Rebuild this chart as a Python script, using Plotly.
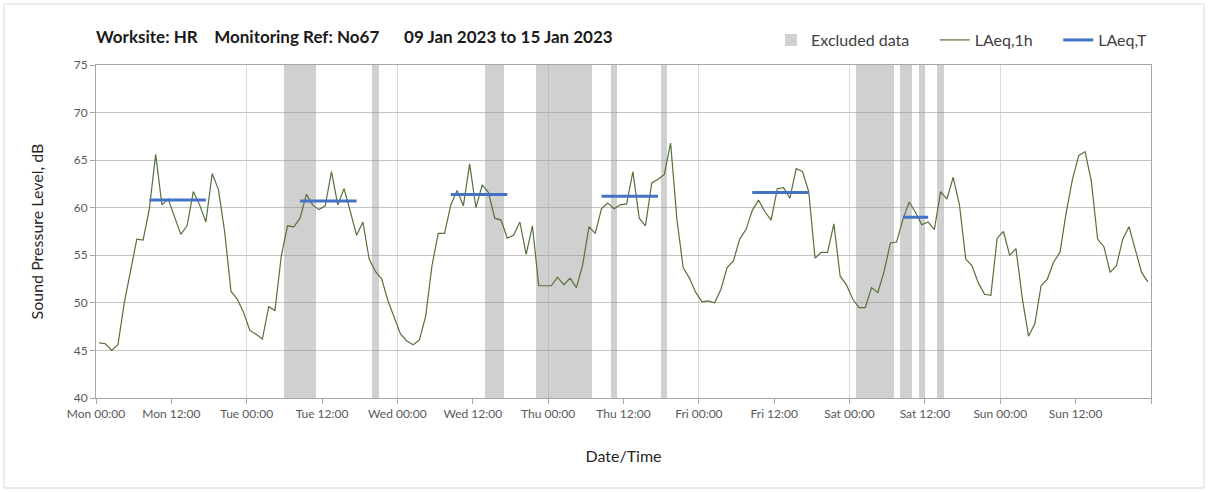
import plotly.graph_objects as go

# Hour index across the monitoring week (Mon 00:00 = 0)
hours = list(range(168))

# Hourly LAeq,1h levels, dB
laeq_1h = [
    45.8, 45.7, 45.0, 45.6, 50.0, 53.2, 56.7, 56.6, 59.9, 65.6,
    60.3, 60.9, 59.1, 57.2, 58.1, 61.7, 60.3, 58.5, 63.6, 61.9,
    57.4, 51.2, 50.4, 49.0, 47.1, 46.7, 46.2, 49.6, 49.2, 54.9,
    58.1, 58.0, 58.9, 61.4, 60.3, 59.8, 60.2, 63.8, 60.3, 62.0,
    59.6, 57.1, 58.5, 54.6, 53.3, 52.5, 50.2, 48.4, 46.7, 46.0,
    45.6, 46.1, 48.6, 53.9, 57.3, 57.3, 60.3, 61.8, 60.2, 64.6,
    60.0, 62.4, 61.6, 58.9, 58.7, 56.8, 57.1, 58.5, 55.1, 58.1,
    51.8, 51.8, 51.8, 52.7, 51.9, 52.6, 51.6, 54.0, 58.0, 57.3,
    59.9, 60.5, 59.9, 60.3, 60.4, 63.8, 58.9, 58.1, 62.6, 63.0,
    63.5, 66.8, 58.8, 53.7, 52.6, 51.1, 50.1, 50.2, 50.0, 51.4,
    53.7, 54.4, 56.7, 57.7, 59.7, 60.8, 59.6, 58.7, 62.0, 62.1,
    61.0, 64.1, 63.8, 61.7, 54.7, 55.3, 55.3, 58.3, 52.8, 51.9,
    50.4, 49.5, 49.5, 51.6, 51.1, 53.3, 56.3, 56.4, 58.8, 60.6,
    59.5, 58.2, 58.5, 57.7, 61.7, 60.9, 63.2, 60.3, 54.6, 53.9,
    52.1, 50.9, 50.8, 56.8, 57.5, 55.0, 55.7, 50.5, 46.5, 47.8,
    51.8, 52.5, 54.3, 55.3, 59.5, 63.0, 65.5, 65.9, 62.8, 56.7,
    55.9, 53.2, 53.9, 56.7, 58.0, 55.6, 53.2, 52.2,
]

# Hours flagged as excluded data
excluded_hours = [30, 31, 32, 33, 34, 44, 62, 63, 64,
                  70, 71, 72, 73, 74, 75, 76, 77, 78, 82, 90,
                  121, 122, 123, 124, 125, 126, 128, 129, 131, 134]

# Daytime assessment periods (first hour, last hour) and their LAeq,T
period_start = [8, 32, 56, 80, 104, 128]
period_end = [17, 41, 65, 89, 113, 132]
period_laeq_t = [60.8, 60.7, 61.4, 61.2, 61.6, 59.0]

# Axis tick labels every 12 hours
tick_hours = list(range(0, 169, 12))
tick_text = ["Mon 00:00", "Mon 12:00", "Tue 00:00", "Tue 12:00", "Wed 00:00",
             "Wed 12:00", "Thu 00:00", "Thu 12:00", "Fri 00:00", "Fri 12:00",
             "Sat 00:00", "Sat 12:00", "Sun 00:00", "Sun 12:00", ""]

# Each hourly value sits at the middle of its hour
x_mid = [h + 0.5 for h in hours]

laeq_t = [None] * len(hours)
for s, e, v in zip(period_start, period_end, period_laeq_t):
    for h in range(s, e + 1):
        laeq_t[h] = v

FONT = "Lato, 'Open Sans', sans-serif"
AXIS_GREY = "#a6a6a6"
TEXT_GREY = "#404040"
PAD = "\u00a0" * 5  # extra spacing between legend entries

fig = go.Figure()

fig.add_trace(go.Bar(
    x=[h + 0.5 for h in excluded_hours],
    y=[1] * len(excluded_hours),
    width=1,
    marker=dict(color="rgba(150,150,150,0.45)", line=dict(width=0)),
    name="Excluded data" + PAD,
    xaxis="x", yaxis="y",
    hoverinfo="skip",
))

fig.add_trace(go.Scatter(
    x=x_mid, y=laeq_1h, mode="lines",
    line=dict(color="#56713a", width=1.2),
    name="LAeq,1h" + PAD,
    xaxis="x2", yaxis="y2",
))

fig.add_trace(go.Scatter(
    x=x_mid, y=laeq_t, mode="lines",
    line=dict(color="#4472c4", width=3),
    name="LAeq,T",
    connectgaps=False,
    xaxis="x2", yaxis="y2",
))

title_text = ("<b>Worksite: HR\u00a0\u00a0\u00a0\u00a0Monitoring Ref: No67"
              "\u00a0\u00a0\u00a0\u00a0\u00a0\u00a009 Jan 2023 to 15 Jan 2023</b>")

fig.update_layout(
    width=1208, height=492,
    margin=dict(l=96, r=57, t=65, b=94),
    paper_bgcolor="white", plot_bgcolor="white",
    font=dict(family=FONT, color=TEXT_GREY),
    bargap=0,
    title=dict(text=title_text, x=0, xref="paper", xanchor="left",
               y=1 - 37 / 492, yref="container", yanchor="middle",
               font=dict(size=17, color="#1a1a1a", family=FONT)),
    showlegend=True,
    legend=dict(orientation="h", x=1.001, xanchor="right",
                y=1.075, yanchor="middle",
                font=dict(size=16, color=TEXT_GREY),
                bgcolor="rgba(0,0,0,0)", traceorder="normal"),
    xaxis=dict(
        range=[0, 168], tickmode="array", tickvals=tick_hours, ticktext=tick_text,
        ticks="outside", ticklen=5, tickcolor=AXIS_GREY,
        tickfont=dict(size=12, color="#595959"),
        showgrid=False, zeroline=False,
        showline=True, linecolor=AXIS_GREY, linewidth=1, mirror=True,
        title=dict(text="Date/Time", standoff=30,
                   font=dict(size=16, color="#262626")),
    ),
    yaxis=dict(range=[0, 1], visible=False, fixedrange=True),
    xaxis2=dict(
        overlaying="x", range=[0, 168], tickmode="array",
        tickvals=list(range(0, 169, 24)),
        showticklabels=False, ticks="", showline=False, zeroline=False,
        showgrid=True, gridcolor="#dadada", gridwidth=1,
    ),
    yaxis2=dict(
        overlaying="y", side="left", range=[40, 75], tick0=40, dtick=5,
        ticks="outside", ticklen=5, tickcolor=AXIS_GREY,
        tickfont=dict(size=12, color="#595959"),
        showgrid=True, gridcolor="#c4c4c4", gridwidth=1.3, zeroline=False,
        showline=True, linecolor=AXIS_GREY, linewidth=1, mirror=True,
        title=dict(text="Sound Pressure Level, dB", standoff=26,
                   font=dict(size=16, color="#262626")),
    ),
    shapes=[dict(type="rect", xref="paper", yref="paper",
                 x0=(4 - 96) / 1055, x1=(1204 - 96) / 1055,
                 y0=(398 - 488) / 333, y1=(398 - 4) / 333,
                 line=dict(color="#d9d9d9", width=1), fillcolor="rgba(0,0,0,0)",
                 layer="below")],
)

fig.write_html("out.html")
